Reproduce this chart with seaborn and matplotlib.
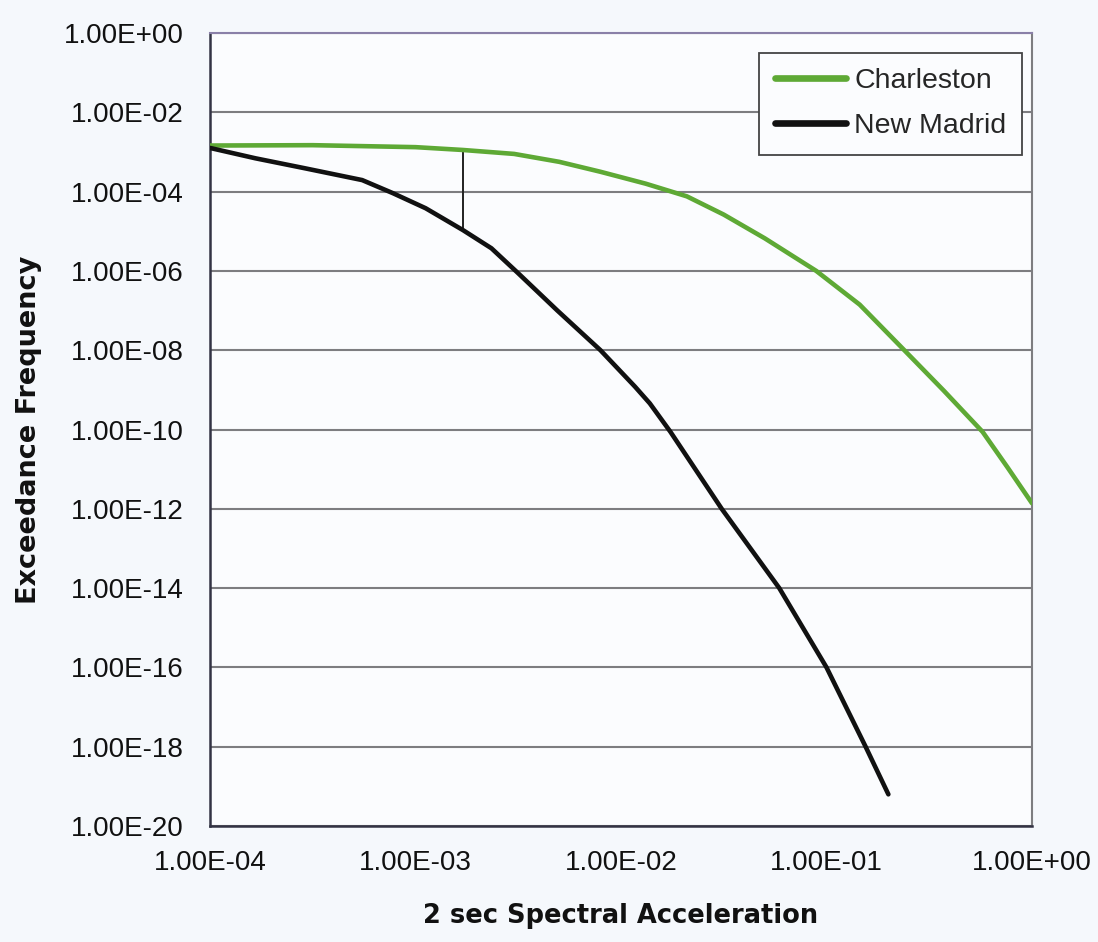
import numpy as np
import pandas as pd
import matplotlib
matplotlib.use("Agg")
import matplotlib.pyplot as plt
import matplotlib.ticker as mticker
import seaborn as sns

# Hazard curves: spectral acceleration (g) vs annual exceedance frequency
charleston_accel = [1.00e-4, 3.16e-4, 1.00e-3, 1.70e-3, 3.02e-3, 5.01e-3, 7.94e-3, 1.32e-2,
                    2.09e-2, 3.16e-2, 5.01e-2, 8.91e-2, 0.145, 0.234, 0.372, 0.575, 0.759, 1.0]
charleston_freq = [1.45e-3, 1.48e-3, 1.32e-3, 1.12e-3, 8.91e-4, 5.62e-4, 3.16e-4, 1.58e-4,
                   7.59e-5, 2.63e-5, 6.61e-6, 1.0e-6, 1.41e-7, 1.12e-8, 9.55e-10, 8.71e-11,
                   1.12e-11, 1.38e-12]

madrid_accel = [1.00e-4, 1.66e-4, 2.88e-4, 5.50e-4, 7.76e-4, 1.12e-3, 1.70e-3, 2.34e-3,
                3.16e-3, 4.90e-3, 7.94e-3, 1.17e-2, 1.38e-2, 1.74e-2, 3.09e-2, 5.89e-2,
                0.100, 0.155, 0.200]
madrid_freq = [1.26e-3, 6.92e-4, 3.89e-4, 1.95e-4, 9.12e-5, 3.80e-5, 1.07e-5, 3.72e-6,
               8.71e-7, 1.0e-7, 1.0e-8, 1.20e-9, 4.57e-10, 8.71e-11, 1.0e-12, 1.0e-14,
               1.0e-16, 1.0e-18, 6.3e-20]

site_names = ["Charleston", "New Madrid"]
site_colors = ["#5ea935", "#111111"]

# acceleration where the two curves are compared
compare_accel = 1.7e-3

x_ticks = [1e-4, 1e-3, 1e-2, 1e-1, 1e0]
y_ticks = [10.0 ** e for e in range(0, -21, -2)]

df = pd.concat([
    pd.DataFrame({"accel": charleston_accel, "freq": charleston_freq, "site": site_names[0]}),
    pd.DataFrame({"accel": madrid_accel, "freq": madrid_freq, "site": site_names[1]}),
], ignore_index=True)

sns.set_style("white")
plt.rcParams["font.family"] = ["Liberation Sans", "DejaVu Sans"]

bg = "#f5f8fc"
fig = plt.figure(figsize=(10.98, 9.42), dpi=100, facecolor=bg)
ax = fig.add_axes([0.1913, 0.1231, 0.7486, 0.8419])
ax.set_facecolor("#fbfcfe")

sns.lineplot(data=df, x="accel", y="freq", hue="site", palette=dict(zip(site_names, site_colors)),
             linewidth=3.3, estimator=None, sort=False, ax=ax, zorder=3)

ax.set_xscale("log")
ax.set_yscale("log")
ax.set_xlim(1e-4, 1e0)
ax.set_ylim(1e-20, 1e0)

# vertical segment between the two curves at the comparison acceleration
lx = np.log10(compare_accel)
top = 10 ** np.interp(lx, np.log10(charleston_accel), np.log10(charleston_freq))
bot = 10 ** np.interp(lx, np.log10(madrid_accel), np.log10(madrid_freq))
ax.vlines(compare_accel, bot, top, color="#222222", linewidth=1.4, zorder=2)

fmt = mticker.FuncFormatter(lambda v, p: f"{v:.2E}")
ax.xaxis.set_major_locator(mticker.FixedLocator(x_ticks))
ax.yaxis.set_major_locator(mticker.FixedLocator(y_ticks))
ax.xaxis.set_minor_locator(mticker.NullLocator())
ax.yaxis.set_minor_locator(mticker.NullLocator())
ax.xaxis.set_major_formatter(fmt)
ax.yaxis.set_major_formatter(fmt)

ax.grid(axis="y", color="#7d7d80", linewidth=1.5, zorder=1)
ax.grid(axis="x", visible=False)
ax.set_axisbelow(True)

ax.tick_params(axis="both", which="major", direction="out", length=7, width=1.5,
               color="#333344", labelsize=20, labelcolor="#111111")
ax.tick_params(axis="y", pad=12)
ax.tick_params(axis="x", pad=10)

for side in ["left", "bottom"]:
    ax.spines[side].set_color("#333344")
    ax.spines[side].set_linewidth(1.8)
ax.spines["top"].set_color("#8a80a8")
ax.spines["top"].set_linewidth(1.5)
ax.spines["right"].set_color("#7d7d80")
ax.spines["right"].set_linewidth(1.5)

ax.set_xlabel("2 sec Spectral Acceleration", fontsize=18.5, fontweight="bold",
              family="DejaVu Sans", color="#111111", labelpad=20)
ax.set_ylabel("Exceedance Frequency", fontsize=19.5, fontweight="bold",
              family="DejaVu Sans", color="#111111", labelpad=16)

handles, labels = ax.get_legend_handles_labels()
leg = ax.legend(handles, labels, loc="upper right", bbox_to_anchor=(0.988, 0.975),
                fontsize=20.5, frameon=True, fancybox=False, shadow=False,
                handlelength=2.5, handletextpad=0.3, borderpad=0.55,
                labelspacing=0.65, borderaxespad=0.0)
leg.get_frame().set_edgecolor("#444444")
leg.get_frame().set_linewidth(1.3)
leg.get_frame().set_facecolor("#fbfcfe")
leg.get_frame().set_alpha(1.0)
for line in leg.get_lines():
    line.set_linewidth(4.8)

fig.savefig("out.png", dpi=100, facecolor=bg)
